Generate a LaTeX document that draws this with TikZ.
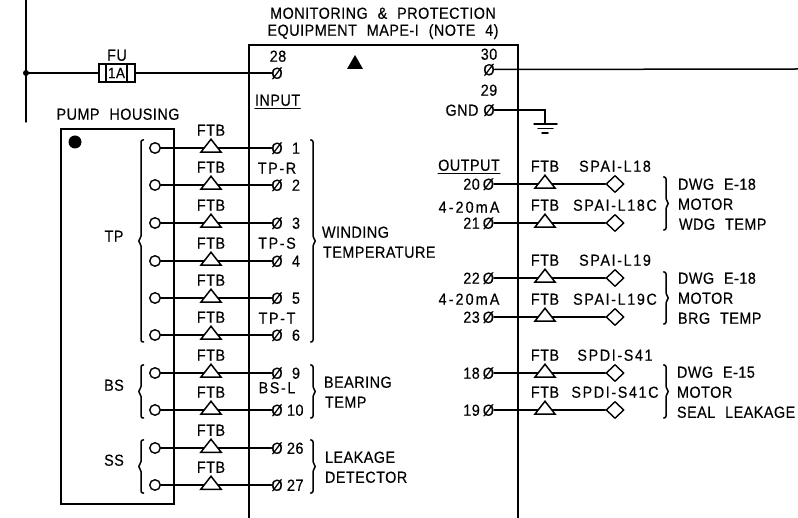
\documentclass[tikz,border=0pt]{standalone}
\usepackage{fontspec}
\setmainfont{Liberation Sans}[LetterSpace=3,WordSpace=2.2,FakeStretch=0.9,FakeBold=0.25]
\usetikzlibrary{shapes.geometric}
\tikzset{
  wire/.style={line width=1.5pt,line cap=round,line join=miter,black},
  lbl/.style={font=\fontsize{16}{16}\selectfont,inner sep=0pt,outer sep=0pt,text height=11.5pt,text depth=0pt,black},
  wide/.style={lbl,font=\fontsize{16}{16}\selectfont\addfontfeature{LetterSpace=10}},
  widerx/.style={lbl,font=\fontsize{16}{16}\selectfont\addfontfeature{LetterSpace=13}},
  term/.style={lbl,font=\fontsize{16}{16}\selectfont},
  ftbtri/.style={isosceles triangle,shape border rotate=90,isosceles triangle apex angle=76,minimum height=13pt,inner sep=0pt,draw,fill=white,line width=1.5pt,anchor=lower side},
  dia/.style={diamond,draw,fill=white,line width=1.4pt,minimum width=18pt,minimum height=17pt,inner sep=0pt},
  pin/.style={circle,draw,fill=white,line width=1.4pt,minimum size=10.5pt,inner sep=0pt},
  bracel/.style={wire,rounded corners=2pt},
}
% left brace: x spine, y1, y2
\newcommand{\lbrc}[3]{\draw[bracel] (#1+2.5,#2) -- (#1,#2) -- (#1,{(#2+#3)/2-3}) -- (#1-3,{(#2+#3)/2}) -- (#1,{(#2+#3)/2+3}) -- (#1,#3) -- (#1+2.5,#3);}
\newcommand{\rbrc}[3]{\draw[bracel] (#1-2.5,#2) -- (#1,#2) -- (#1,{(#2+#3)/2-3}) -- (#1+3,{(#2+#3)/2}) -- (#1,{(#2+#3)/2+3}) -- (#1,#3) -- (#1-2.5,#3);}
\begin{document}
\begin{tikzpicture}[x=1pt,y=-1pt]
\useasboundingbox (0,0) rectangle (798,518);
% frames
\draw[wire] (26,-2) -- (26,122);
\draw[wire] (249,518) -- (249,45) -- (518,45) -- (518,518);
\draw[wire] (61,129) rectangle (174,504);
\fill (75,142) circle (6.5);
% titles
\node[lbl] (t1) at (383,13) {MONITORING \& PROTECTION};
\node[lbl] (t2) at (383,30) {EQUIPMENT MAPE-I (NOTE 4)};
\node[lbl] (ph) at (118,114) {PUMP HOUSING};
% supply
\coordinate (bus) at (26,73);
\fill (bus) circle (3);
\node[lbl] (fu) at (117,55) {FU};
\node[term] (p28) at (278,56) {28};
\node[term] (s28) at (277,73) {Ø};
\draw[wire] (bus) -- (s28.west);
\node[draw,fill=white,line width=1.2pt,minimum width=36pt,minimum height=18pt,inner sep=0pt] (fuse) at (117,73) {};
\node[draw,fill=white,line width=1.2pt,minimum width=21pt,minimum height=18pt,inner sep=0pt,font=\fontsize{15}{15}\selectfont] (fusein) at (116.5,73) {1A};
\fill (347,69) -- (363,69) -- (355,55) -- cycle;
\node[lbl,anchor=west] (inp) at (255,100) {INPUT};
\draw[wire] ([yshift=-3pt]inp.south west) -- ([yshift=-3pt]inp.south east);
% upper right terminals
\node[term] (p30) at (489,54) {30};
\node[term] (s30) at (489,69.5) {Ø};
\coordinate (rend) at (798,69);
\draw[wire] (s30.east) -- (rend);
\node[term] (p29) at (489,90) {29};
\node[lbl] (gnd) at (462,110) {GND};
\node[term] (s29) at (489,110) {Ø};
\coordinate (g0) at (545,124);
\draw[wire] (s29.east) -| (g0);
\draw[wire] (534,124) -- (557,124);
\draw[wire] (538,128.5) -- (553,128.5);
\draw[wire] (542,133) -- (548,133);
% input rows
\foreach \n/\y/\lab in {1/148/1,2/185/2,3/223/3,4/261/4,5/298/5,6/335/6,9/373/9,10/410/10,26/448/26,27/485/27}{
  \node[pin] (c\n) at (155,\y) {};
  \node[term] (s\n) at (277,\y) {Ø};
  \node[term,anchor=west] (n\n) at (287,\y) {\ifnum\lab<10\hspace{5pt}\fi\lab};
  \draw[wire] (c\n.east) -- (s\n.west);
  \node[ftbtri] (tr\n) at (211,\y+5) {};
  \node[lbl] (f\n) at (211,\y-18) {FTB};
}
\node[wide] (tpr) at (277,168) {TP-R};
\node[wide] (tps) at (277,243) {TP-S};
\node[wide] (tpt) at (277,318) {TP-T};
\node[wide] (bsl) at (277,387.5) {BS-L};
\node[lbl] (tp) at (114,236) {TP};
\node[lbl] (bs) at (114,385) {BS};
\node[lbl] (ss) at (114,460) {SS};
\lbrc{141}{140}{342}
\lbrc{141}{365}{418}
\lbrc{141}{440}{493}
\rbrc{313}{140}{342}
\rbrc{313}{365}{418}
\rbrc{313}{440}{493}
\node[lbl,anchor=west] (w1) at (322,232) {WINDING};
\node[lbl,anchor=west] (w2) at (323,252) {TEMPERATURE};
\node[lbl,anchor=west] (b1) at (324,382) {BEARING};
\node[lbl,anchor=west] (b2) at (325,402) {TEMP};
\node[lbl,anchor=west] (l1) at (325,457) {LEAKAGE};
\node[lbl,anchor=west] (l2) at (325,477) {DETECTOR};
% output rows
\node[lbl] (out) at (469,165) {OUTPUT};
\draw[wire] ([yshift=-3pt]out.south west) -- ([yshift=-3pt]out.south east);
\foreach \n/\y/\tag in {20/184/SPAI-L18,21/223/SPAI-L18C,22/278/SPAI-L19,23/317/SPAI-L19C,18/373/SPDI-S41,19/410/SPDI-S41C}{
  \node[term,anchor=east] (s\n) at (494,\y) {\n\hspace{3pt}Ø};
  \node[dia] (d\n) at (615,\y) {};
  \draw[wire] (s\n.east) -- (d\n.west);
  \node[ftbtri] (tr\n) at (545,\y+5) {};
  \node[lbl] (f\n) at (545,\y-18) {FTB};
  \node[wide] (tag\n) at (615,\y-18) {\tag};
}
\node[widerx] (ma1) at (469,207) {4-20mA};
\node[widerx] (ma2) at (469,299) {4-20mA};
\rbrc{666}{177}{230}
\rbrc{666}{272}{324}
\rbrc{666}{365}{418}
\node[lbl,anchor=west] (a1) at (678,184) {DWG E-18};
\node[lbl,anchor=west] (a2) at (678,204) {MOTOR};
\node[lbl,anchor=west] (a3) at (679,224) {WDG TEMP};
\node[lbl,anchor=west] (e1) at (678,278) {DWG E-18};
\node[lbl,anchor=west] (e2) at (678,298) {MOTOR};
\node[lbl,anchor=west] (e3) at (678,318) {BRG TEMP};
\node[lbl,anchor=west] (g1) at (677,372) {DWG E-15};
\node[lbl,anchor=west] (g2) at (677,392) {MOTOR};
\node[lbl,anchor=west] (g3) at (677,412) {SEAL LEAKAGE};
\end{tikzpicture}
\end{document}
